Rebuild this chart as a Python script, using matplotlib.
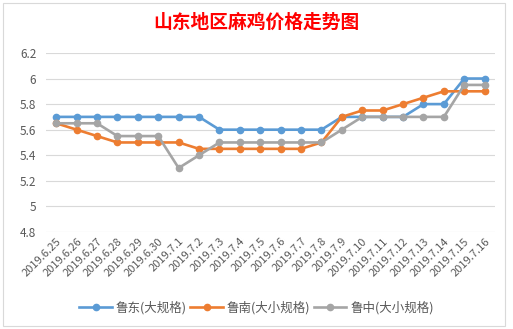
import matplotlib
matplotlib.use('Agg')
import matplotlib.pyplot as plt
from matplotlib.patches import Rectangle

plt.rcParams['font.family'] = ['Noto Sans CJK SC', 'DejaVu Sans']

# data
dates = ['2019.6.25', '2019.6.26', '2019.6.27', '2019.6.28', '2019.6.29', '2019.6.30',
         '2019.7.1', '2019.7.2', '2019.7.3', '2019.7.4', '2019.7.5', '2019.7.6',
         '2019.7.7', '2019.7.8', '2019.7.9', '2019.7.10', '2019.7.11', '2019.7.12',
         '2019.7.13', '2019.7.14', '2019.7.15', '2019.7.16']
ludong = [5.7, 5.7, 5.7, 5.7, 5.7, 5.7, 5.7, 5.7, 5.6, 5.6, 5.6, 5.6,
          5.6, 5.6, 5.7, 5.7, 5.7, 5.7, 5.8, 5.8, 6.0, 6.0]
lunan = [5.65, 5.6, 5.55, 5.5, 5.5, 5.5, 5.5, 5.45, 5.45, 5.45, 5.45, 5.45,
         5.45, 5.5, 5.7, 5.75, 5.75, 5.8, 5.85, 5.9, 5.9, 5.9]
luzhong = [5.65, 5.65, 5.65, 5.55, 5.55, 5.55, 5.3, 5.4, 5.5, 5.5, 5.5, 5.5,
           5.5, 5.5, 5.6, 5.7, 5.7, 5.7, 5.7, 5.7, 5.95, 5.95]
series = [('鲁东(大规格)', ludong, '#5B9BD5'),
          ('鲁南(大小规格)', lunan, '#ED7D31'),
          ('鲁中(大小规格)', luzhong, '#A5A5A5')]
yticks = [4.8, 5, 5.2, 5.4, 5.6, 5.8, 6, 6.2]

fig = plt.figure(figsize=(5.13, 3.29), dpi=100)
fig.patches.append(Rectangle((3 / 513, 3 / 329), 502 / 513, 323 / 329,
                             transform=fig.transFigure, fill=False,
                             edgecolor='#D9D9D9', linewidth=0.8))
ax = fig.add_axes([0.0897, 0.295, 0.875, 0.544])

x = list(range(len(dates)))
for name, vals, col in series:
    ax.plot(x, vals, color=col, linewidth=1.9, marker='o', markersize=4.5,
            label=name, zorder=3)

ax.set_xlim(-0.5, len(dates) - 0.5)
ax.set_ylim(4.8, 6.2)
ax.set_yticks(yticks)
ax.set_yticklabels([f'{v:g}' for v in yticks])
ax.set_xticks(x)
ax.set_xticklabels(dates, rotation=45, ha='right', va='top', rotation_mode='anchor')
ax.tick_params(axis='both', length=0, labelcolor='#595959')
ax.tick_params(axis='y', pad=7, labelsize=8.5)
ax.tick_params(axis='x', pad=3, labelsize=8)
ax.grid(axis='y', color='#D9D9D9', linewidth=0.8)
for s in ax.spines.values():
    s.set_visible(False)

fig.text(0.5, 0.932, '山东地区麻鸡价格走势图', color='red', fontsize=13.5,
         fontweight='bold', ha='center', va='center')
fig.legend(loc='center', bbox_to_anchor=(0.5, 0.064), ncol=3, frameon=False,
           fontsize=9, handlelength=2.6, handletextpad=0.3, columnspacing=0.3,
           labelcolor='#595959')

fig.savefig('out.png', dpi=100)
